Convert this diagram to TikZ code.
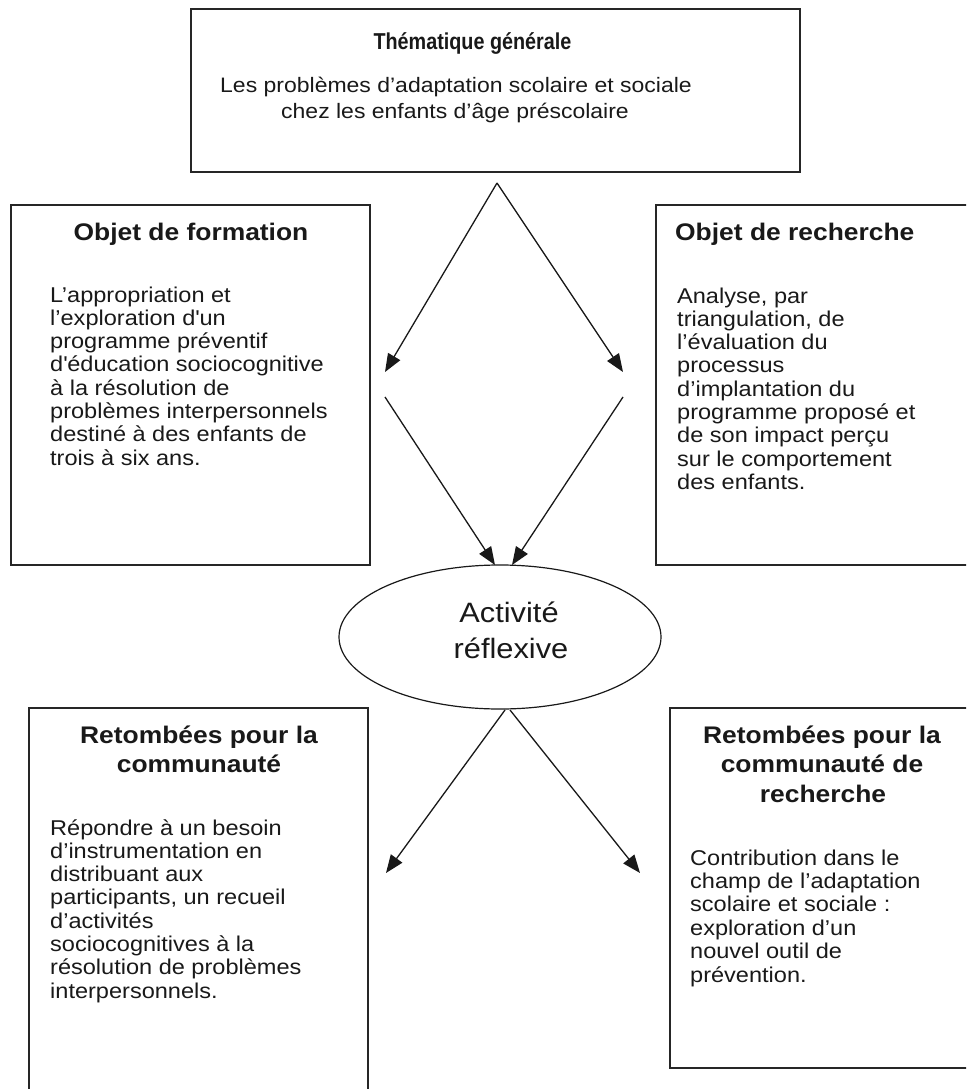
\documentclass[tikz,border=0pt]{standalone}
\usepackage{fontspec}
\setmainfont{Liberation Sans}[FakeStretch=1.1]
\newfontfamily\narrowsans{Liberation Sans}[FakeStretch=0.86]
\usetikzlibrary{arrows.meta,shapes.geometric}
\begin{document}
\begin{tikzpicture}[x=1pt,y=-1pt,
  box/.style={draw=black!85, line width=1.4pt, inner sep=0pt, rectangle},
  bodyt/.style={anchor=base west, inner sep=0pt, text=black!90, font=\fontsize{21.4}{23.3}\selectfont},
  bodyc/.style={anchor=base, inner sep=0pt, text=black!90, font=\fontsize{20.9}{23.3}\selectfont},
  headc/.style={anchor=base, inner sep=0pt, text=black!90, font=\fontsize{24}{28}\selectfont\bfseries},
  headl/.style={anchor=base west, inner sep=0pt, text=black!90, font=\fontsize{24}{28}\selectfont\bfseries},
  arr/.style={-{Triangle[length=18pt,width=14pt]}, line width=1.3pt, draw=black!90}]
\useasboundingbox (0,0) rectangle (966,1089);
\clip (0,0) rectangle (966,1089);
\fill[white] (0,0) rectangle (966,1089);

% boxes
\node[box, minimum width=609pt, minimum height=163pt] (topbox) at (495.5,90.5) {};
\node[box, minimum width=359pt, minimum height=360pt] (formbox) at (190.5,385) {};
\node[box, minimum width=334pt, minimum height=360pt] (rechbox) at (823,385) {};
\node[box, minimum width=339pt, minimum height=402pt] (combox) at (198.5,909) {};
\node[box, minimum width=320pt, minimum height=360pt] (crbox) at (830,888) {};
\node[draw=black!90, line width=1.2pt, ellipse, minimum width=322pt, minimum height=144pt, inner sep=0pt] (act) at (500,637) {};

% top box text
\node[headc, font=\narrowsans\fontsize{23}{28}\selectfont\bfseries] (th) at (472.5,50) {Thématique générale};
\node[bodyc] (tb1) at (456,93) {Les problèmes d’adaptation scolaire et sociale};
\node[bodyc] (tb2) at (455,118) {chez les enfants d’âge préscolaire};

% left middle
\node[headc] (fh) at (191,240) {Objet de formation};
\foreach \t [count=\i] in {L’appropriation et, l’exploration d\textquotesingle un, programme préventif, d\textquotesingle éducation sociocognitive, à la résolution de, problèmes interpersonnels, destiné à des enfants de, trois à six ans.}
  \node[bodyt] (fo\i) at (50,{302+(\i-1)*23.3}) {\t};

% right middle
\node[headl] (rh) at (675,240) {Objet de recherche};
\foreach \t [count=\i] in {{Analyse, par}, {triangulation, de}, l’évaluation du, processus, d’implantation du, programme proposé et, de son impact perçu, sur le comportement, des enfants.}
  \node[bodyt] (re\i) at (677,{303+(\i-1)*23.3}) {\t};

% ellipse text
\node[anchor=base, inner sep=0pt, text=black!90, font=\fontsize{28}{34}\selectfont] (ac1) at (509,622) {Activité};
\node[anchor=base, inner sep=0pt, text=black!90, font=\fontsize{28}{34}\selectfont] (ac2) at (511,658) {réflexive};

% bottom left
\node[headc] (ch1) at (199,743) {Retombées pour la};
\node[headc] (ch2) at (199,772) {communauté};
\foreach \t [count=\i] in {Répondre à un besoin, d’instrumentation en, distribuant aux, {participants, un recueil}, d’activités, sociocognitives à la, résolution de problèmes, interpersonnels.}
  \node[bodyt] (co\i) at (50,{835+(\i-1)*23.3}) {\t};

% bottom right
\node[headc] (rch1) at (822,743) {Retombées pour la};
\node[headc] (rch2) at (822,772) {communauté de};
\node[headc] (rch3) at (823,802) {recherche};
\foreach \t [count=\i] in {Contribution dans le, champ de l’adaptation, scolaire et sociale :, exploration d’un, nouvel outil de, prévention.}
  \node[bodyt] (cr\i) at (690,{865+(\i-1)*23.4}) {\t};

% connectors
\coordinate (apex) at (497,183);
\coordinate (fl) at (385,372);
\coordinate (fr) at (623,372);
\coordinate (fl2) at (385,397);
\coordinate (fr2) at (623,397);
\coordinate (al) at (495,565);
\coordinate (ar) at (512,565);
\coordinate (bl) at (505,710);
\coordinate (br) at (510,710);
\coordinate (tl) at (386,873);
\coordinate (tr) at (640,873);
\draw[arr] (apex) -- (fl);
\draw[arr] (apex) -- (fr);
\draw[arr] (fl2) -- (al);
\draw[arr] (fr2) -- (ar);
\draw[arr] (bl) -- (tl);
\draw[arr] (br) -- (tr);
\end{tikzpicture}
\end{document}
